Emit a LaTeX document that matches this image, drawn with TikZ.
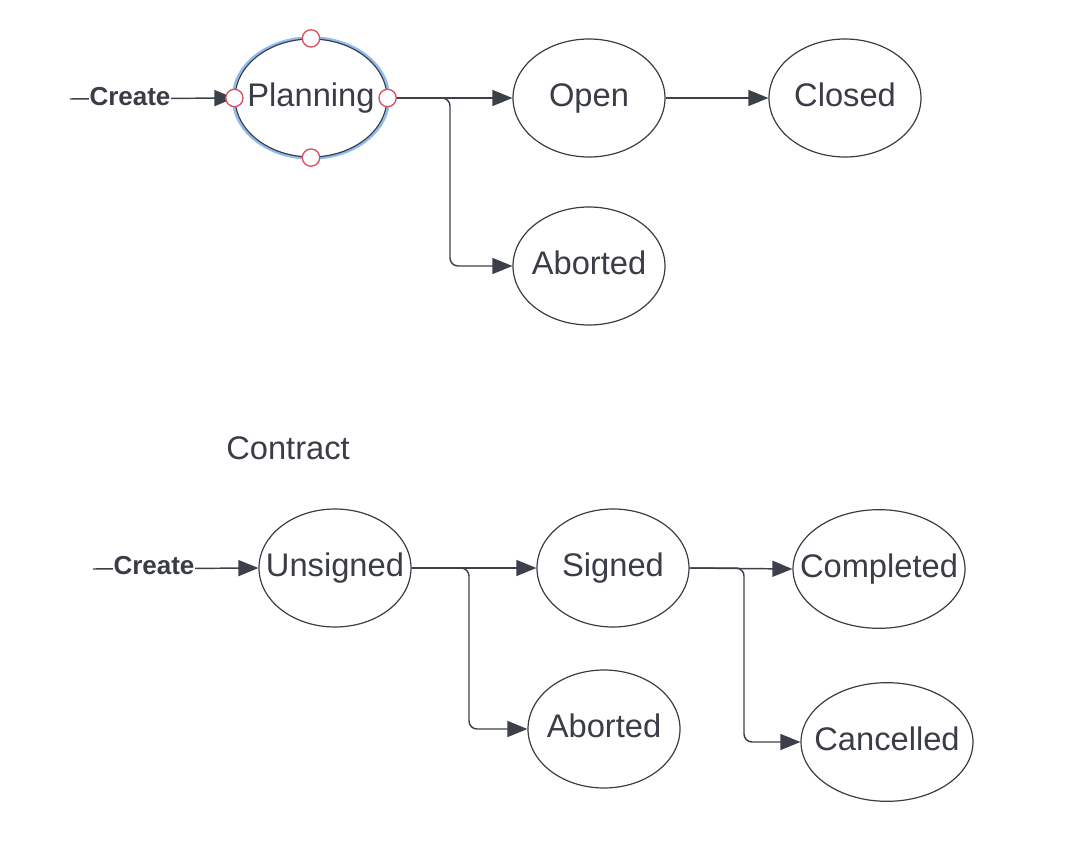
\documentclass[tikz,border=0pt]{standalone}
\usepackage{fontspec}
\setmainfont{Liberation Sans}
\usetikzlibrary{shapes.geometric,arrows.meta}
\definecolor{ink}{HTML}{3A3D45}
\definecolor{linec}{HTML}{3C4049}
\definecolor{selblue}{HTML}{8DBBF2}
\definecolor{handle}{HTML}{DD4F5E}
\tikzset{
  state/.style={ellipse, draw=ink, line width=0.9pt, fill=white, inner sep=0pt,
    minimum width=114pt, minimum height=88.5pt, text=ink,
    font=\fontsize{24.5}{29}\selectfont},
  conn/.style={draw=linec, line width=1.1pt, -{Triangle[length=15pt,width=12pt]}, rounded corners=6pt},
  lbl/.style={fill=white, inner sep=0.5pt, text=ink, font=\fontsize{19.5}{23}\selectfont\bfseries},
  hnd/.style={circle, draw=handle, fill=white, line width=1pt, minimum size=13pt, inner sep=0pt},
}
\newcommand{\zb}[1]{\makebox[0pt]{\vphantom{Pg}#1}}
\begin{document}
\begin{tikzpicture}[x=0.75pt,y=-0.75pt]
\useasboundingbox (0,0) rectangle (1078,852);
% selection outline
\draw[selblue, line width=1.8pt] (311,98) ellipse [x radius=78, y radius=60.5];
% project states
\node[state] (plan) at (311,98) {\zb{Planning}};
\node[state] (open) at (589,98) {\zb{Open}};
\node[state] (closed) at (845,98) {\zb{Closed}};
\node[state] (ab1) at (589,266) {\zb{Aborted}};
% contract states
\node[text=ink, font=\fontsize{24.5}{29}\selectfont] (title) at (288,448) {Contract};
\node[state] (uns) at (335,568) {\zb{Unsigned}};
\node[state] (sig) at (613,568) {\zb{Signed}};
\node[state, minimum width=129pt, minimum height=89pt] (comp) at (879,569) {\zb{Completed}};
\node[state] (ab2) at (604,729) {\zb{Aborted}};
\node[state, minimum width=129pt, minimum height=89pt] (canc) at (887,742) {\zb{Cancelled}};
% coordinates
\coordinate (s1) at (70,99);
\coordinate (s2) at (93,569);
\coordinate (j1) at (450,98);
\coordinate (j2) at (469,568);
\coordinate (j3) at (744,568);
% connectors
\draw[conn] (s1) -- (plan.west);
\node[lbl] (c1) at (130,97) {Create};
\draw[conn] (plan.east) -- (open.west);
\draw[conn] (plan.east) -- (j1) |- (ab1.west);
\draw[conn] (open.east) -- (closed.west);
\draw[conn] (s2) -- (uns.west);
\node[lbl] (c2) at (154,566) {Create};
\draw[conn] (uns.east) -- (sig.west);
\draw[conn] (uns.east) -- (j2) |- (ab2.west);
\draw[conn] (sig.east) -- (comp.west);
\draw[conn] (sig.east) -- (j3) |- (canc.west);
% selection handles
\node[hnd] (h1) at (plan.north) {};
\node[hnd] (h2) at (plan.south) {};
\node[hnd] (h3) at (plan.west) {};
\node[hnd] (h4) at (plan.east) {};
\end{tikzpicture}
\end{document}
